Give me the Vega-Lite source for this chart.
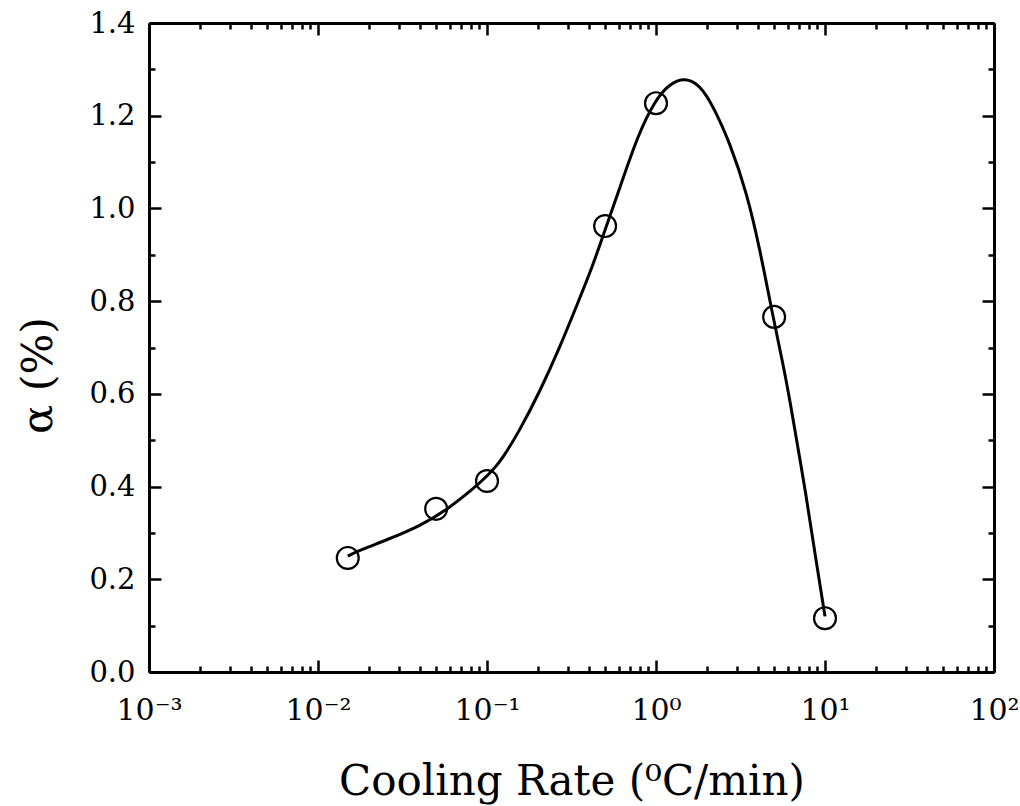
{
  "$schema": "https://vega.github.io/schema/vega-lite/v6.json",
  "width": 845,
  "height": 649,
  "autosize": {"type": "none"},
  "padding": {"left": 149, "top": 23, "right": 26, "bottom": 134},
  "background": "white",
  "config": {
    "view": {"stroke": null},
    "axis": {
      "domainColor": "black",
      "domainWidth": 3,
      "tickColor": "black",
      "tickWidth": 2.5,
      "labelFont": "DejaVu Serif",
      "titleFont": "DejaVu Serif",
      "labelColor": "black",
      "titleColor": "black",
      "titleFontWeight": "normal",
      "grid": false
    }
  },
  "datasets": {
    "curve": [
      {"rate": 0.015, "alpha": 0.25},
      {"rate": 0.0177, "alpha": 0.263},
      {"rate": 0.0256, "alpha": 0.285},
      {"rate": 0.0402, "alpha": 0.315},
      {"rate": 0.058, "alpha": 0.35},
      {"rate": 0.0826, "alpha": 0.395},
      {"rate": 0.1146, "alpha": 0.44},
      {"rate": 0.1567, "alpha": 0.522},
      {"rate": 0.206, "alpha": 0.606},
      {"rate": 0.27, "alpha": 0.701},
      {"rate": 0.341, "alpha": 0.792},
      {"rate": 0.424, "alpha": 0.878},
      {"rate": 0.479, "alpha": 0.935},
      {"rate": 0.612, "alpha": 1.045},
      {"rate": 0.773, "alpha": 1.154},
      {"rate": 0.98, "alpha": 1.232},
      {"rate": 1.21, "alpha": 1.27},
      {"rate": 1.49, "alpha": 1.282},
      {"rate": 1.82, "alpha": 1.266},
      {"rate": 2.17, "alpha": 1.222},
      {"rate": 2.74, "alpha": 1.141},
      {"rate": 3.45, "alpha": 1.033},
      {"rate": 4.12, "alpha": 0.912},
      {"rate": 4.9, "alpha": 0.77},
      {"rate": 5.64, "alpha": 0.665},
      {"rate": 6.21, "alpha": 0.585},
      {"rate": 7.82, "alpha": 0.371},
      {"rate": 8.97, "alpha": 0.227},
      {"rate": 10, "alpha": 0.12}
    ],
    "points": [
      {"rate": 0.015, "alpha": 0.246},
      {"rate": 0.05, "alpha": 0.352},
      {"rate": 0.1, "alpha": 0.412},
      {"rate": 0.5, "alpha": 0.962},
      {"rate": 1, "alpha": 1.227},
      {"rate": 5, "alpha": 0.766},
      {"rate": 10, "alpha": 0.116}
    ]
  },
  "layer": [
    {
      "data": {"name": "curve"},
      "mark": {"type": "line", "color": "black", "strokeWidth": 3, "interpolate": "basis"},
      "encoding": {
        "x": {
          "field": "rate",
          "type": "quantitative",
          "scale": {"type": "log", "domain": [0.001, 100], "nice": false},
          "axis": {
            "orient": "bottom",
            "values": [0.001, 0.01, 0.1, 1, 10, 100],
            "tickSize": -12,
            "labelFontSize": 30,
            "labelPadding": 35,
            "labelFlush": false,
            "labelExpr": "datum.value < 0.005 ? '10⁻³' : datum.value < 0.05 ? '10⁻²' : datum.value < 0.5 ? '10⁻¹' : datum.value < 5 ? '10⁰' : datum.value < 50 ? '10¹' : '10²'",
            "title": "Cooling Rate (⁰C/min)",
            "titleFontSize": 42,
            "titlePadding": 36
          }
        },
        "y": {
          "field": "alpha",
          "type": "quantitative",
          "scale": {"domain": [0, 1.4], "nice": false, "zero": true},
          "axis": {
            "orient": "left",
            "values": [0, 0.2, 0.4, 0.6, 0.8, 1.0, 1.2, 1.4],
            "format": ".1f",
            "tickSize": -12,
            "labelFontSize": 29,
            "labelPadding": 26,
            "title": "α (%)",
            "titleFontSize": 43,
            "titlePadding": 28,
            "titleY": 352
          }
        }
      }
    },
    {
      "data": {"name": "points"},
      "mark": {"type": "point", "shape": "circle", "filled": false, "color": "black", "strokeWidth": 2.2, "size": 480, "opacity": 1},
      "encoding": {
        "x": {
          "field": "rate",
          "type": "quantitative",
          "axis": {
            "orient": "bottom",
            "values": [0.002, 0.003, 0.004, 0.005, 0.006, 0.007, 0.008, 0.009, 0.02, 0.03, 0.04, 0.05, 0.06, 0.07, 0.08, 0.09, 0.2, 0.3, 0.4, 0.5, 0.6, 0.7, 0.8, 0.9, 2, 3, 4, 5, 6, 7, 8, 9, 20, 30, 40, 50, 60, 70, 80, 90],
            "tickSize": -6,
            "labels": false,
            "domain": false,
            "title": null
          }
        },
        "y": {
          "field": "alpha",
          "type": "quantitative",
          "axis": {
            "orient": "left",
            "values": [0.1, 0.3, 0.5, 0.7, 0.9, 1.1, 1.3],
            "tickSize": -6,
            "labels": false,
            "domain": false,
            "title": null
          }
        }
      }
    },
    {
      "data": {"name": "points"},
      "mark": {"type": "point", "opacity": 0},
      "encoding": {
        "x": {
          "field": "rate",
          "type": "quantitative",
          "axis": {
            "orient": "top",
            "values": [0.001, 0.01, 0.1, 1, 10, 100],
            "tickSize": -12,
            "labels": false,
            "title": null
          }
        },
        "y": {
          "field": "alpha",
          "type": "quantitative",
          "axis": {
            "orient": "right",
            "values": [0, 0.2, 0.4, 0.6, 0.8, 1.0, 1.2, 1.4],
            "tickSize": -12,
            "labels": false,
            "title": null
          }
        }
      }
    },
    {
      "data": {"name": "points"},
      "mark": {"type": "point", "opacity": 0},
      "encoding": {
        "x": {
          "field": "rate",
          "type": "quantitative",
          "axis": {
            "orient": "top",
            "values": [0.002, 0.003, 0.004, 0.005, 0.006, 0.007, 0.008, 0.009, 0.02, 0.03, 0.04, 0.05, 0.06, 0.07, 0.08, 0.09, 0.2, 0.3, 0.4, 0.5, 0.6, 0.7, 0.8, 0.9, 2, 3, 4, 5, 6, 7, 8, 9, 20, 30, 40, 50, 60, 70, 80, 90],
            "tickSize": -6,
            "labels": false,
            "domain": false,
            "title": null
          }
        },
        "y": {
          "field": "alpha",
          "type": "quantitative",
          "axis": {
            "orient": "right",
            "values": [0.1, 0.3, 0.5, 0.7, 0.9, 1.1, 1.3],
            "tickSize": -6,
            "labels": false,
            "domain": false,
            "title": null
          }
        }
      }
    }
  ],
  "resolve": {"axis": {"x": "independent", "y": "independent"}}
}
